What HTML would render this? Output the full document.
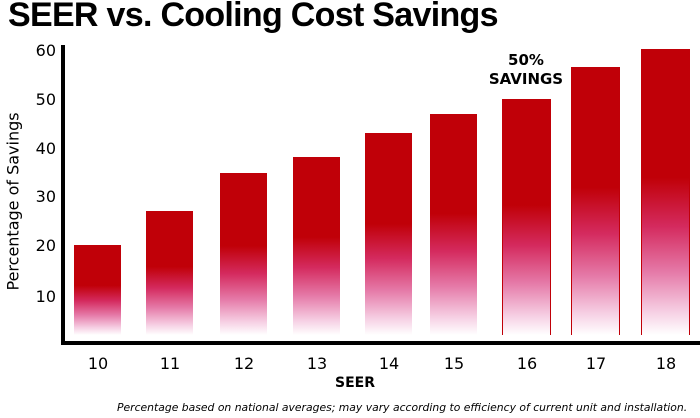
<!DOCTYPE html>
<html><head><style>
body{margin:0;width:700px;height:418px;background:#fff;position:relative;overflow:hidden;font-family:"DejaVu Sans","Liberation Sans",sans-serif;}
.t{position:absolute;left:8px;top:-4px;font:bold 34px "Liberation Sans",sans-serif;letter-spacing:-0.7px;color:#000;}
.b{position:absolute;bottom:83px;background:linear-gradient(to bottom,#c00008 0%,#c00008 45%,#d42a5e 62%,#e57aa8 78%,#f6d0e4 92%,#fff 100%);}
.o{box-sizing:border-box;border-left:1.5px solid #c00008;border-right:1.5px solid #c00008;}
.yl{position:absolute;left:30px;font-size:16px;width:26px;text-align:right;}
.xl{position:absolute;top:354px;font-size:16px;width:50px;text-align:center;}
</style></head><body>
<div class="t">SEER vs. Cooling Cost Savings</div>
<div style="position:absolute;left:61px;top:45px;width:4px;height:300px;background:#000"></div>
<div style="position:absolute;left:61px;top:341px;width:639px;height:4px;background:#000"></div>
<div class="yl" style="top:41px">60</div>
<div class="yl" style="top:90px">50</div>
<div class="yl" style="top:139px">40</div>
<div class="yl" style="top:187px">30</div>
<div class="yl" style="top:236px">20</div>
<div class="yl" style="top:287px">10</div>
<div style="position:absolute;left:-52px;top:216px;width:130px;transform:rotate(-90deg);font-size:16px;text-align:center;white-space:nowrap">Percentage of Savings</div>
<div class="b" style="left:74px;width:47px;height:90px;bottom:83px"></div>
<div class="b" style="left:146px;width:47px;height:124px"></div>
<div class="b" style="left:220px;width:47px;height:162px"></div>
<div class="b" style="left:293px;width:47px;height:178px"></div>
<div class="b" style="left:365px;width:47px;height:202px"></div>
<div class="b" style="left:430px;width:47px;height:221px"></div>
<div class="b o" style="left:502px;width:49px;height:236px"></div>
<div class="b o" style="left:571px;width:49px;height:268px"></div>
<div class="b o" style="left:641px;width:49px;height:286px"></div>
<div style="position:absolute;left:481px;top:51px;width:90px;text-align:center;font-weight:bold;font-size:15px;line-height:19px">50%<br>SAVINGS</div>
<div class="xl" style="left:73px">10</div>
<div class="xl" style="left:145px">11</div>
<div class="xl" style="left:219px">12</div>
<div class="xl" style="left:292px">13</div>
<div class="xl" style="left:364px">14</div>
<div class="xl" style="left:429px">15</div>
<div class="xl" style="left:502px">16</div>
<div class="xl" style="left:571px">17</div>
<div class="xl" style="left:641px">18</div>
<div style="position:absolute;left:335px;top:375px;font-weight:bold;font-size:14px">SEER</div>
<div style="position:absolute;left:117px;top:401px;font-style:italic;font-size:10.8px;white-space:nowrap">Percentage based on national averages; may vary according to efficiency of current unit and installation.</div>
</body></html>
